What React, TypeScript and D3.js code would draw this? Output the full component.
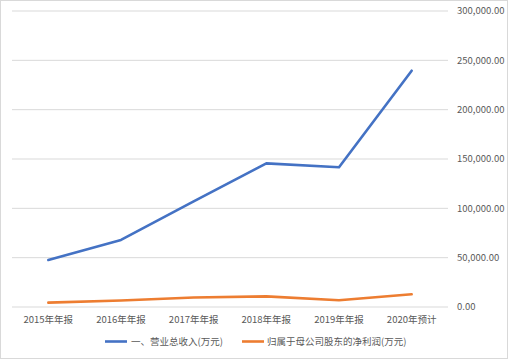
import React from "react";
import * as d3 from "d3";

const categories = ["2015年年报", "2016年年报", "2017年年报", "2018年年报", "2019年年报", "2020年预计"];
const revenue = [47600, 68000, 107000, 145600, 141600, 239500];
const netProfit = [4400, 6600, 9600, 10800, 6800, 12900];
const yTicks = [0, 50000, 100000, 150000, 200000, 250000, 300000];
const seriesNames = ["一、营业总收入(万元)", "归属于母公司股东的净利润(万元)"];
const colors = ["#4472C4", "#ED7D31"];

const W = 508, H = 359;
const font = "'Noto Sans CJK SC', 'Microsoft YaHei', sans-serif";

export default function App() {
  const x = d3.scaleBand<string>().domain(categories).range([12, 448]);
  const y = d3.scaleLinear().domain([0, 300000]).range([307, 11]);
  const fmt = d3.format(",.2f");
  const line = d3.line<number>()
    .x((_, i) => (x(categories[i]) as number) + x.bandwidth() / 2)
    .y((d) => y(d));
  const series = [revenue, netProfit];
  return (
    <svg width={W} height={H} style={{ position: "absolute", left: 0, top: 0 }}>
      <rect x={0.5} y={0.5} width={W - 1} height={H - 1} fill="#fff" stroke="#D9D9D9" />
      {yTicks.map((t) => (
        <g key={t}>
          <line x1={12} x2={448} y1={y(t)} y2={y(t)} stroke="#D9D9D9" strokeWidth={1} />
          <text x={457} y={y(t)} dy="0.35em" fontSize={9.5} fill="#595959" fontFamily={font}>
            {fmt(t)}
          </text>
        </g>
      ))}
      {categories.map((c) => (
        <text key={c} x={(x(c) as number) + x.bandwidth() / 2} y={323} textAnchor="middle"
          fontSize={9.5} fill="#595959" fontFamily={font}>{c}</text>
      ))}
      {series.map((s, i) => (
        <path key={i} d={line(s) || ""} fill="none" stroke={colors[i]} strokeWidth={2.6}
          strokeLinejoin="round" strokeLinecap="round" />
      ))}
      {[{ lx: 105, tx: 131 }, { lx: 242, tx: 267 }].map((p, i) => (
        <g key={i}>
          <line x1={p.lx} x2={p.lx + 22} y1={341.5} y2={341.5} stroke={colors[i]} strokeWidth={2.6} />
          <text x={p.tx} y={341.5} dy="0.35em" fontSize={9.5} fill="#595959" fontFamily={font}>
            {seriesNames[i]}
          </text>
        </g>
      ))}
    </svg>
  );
}
